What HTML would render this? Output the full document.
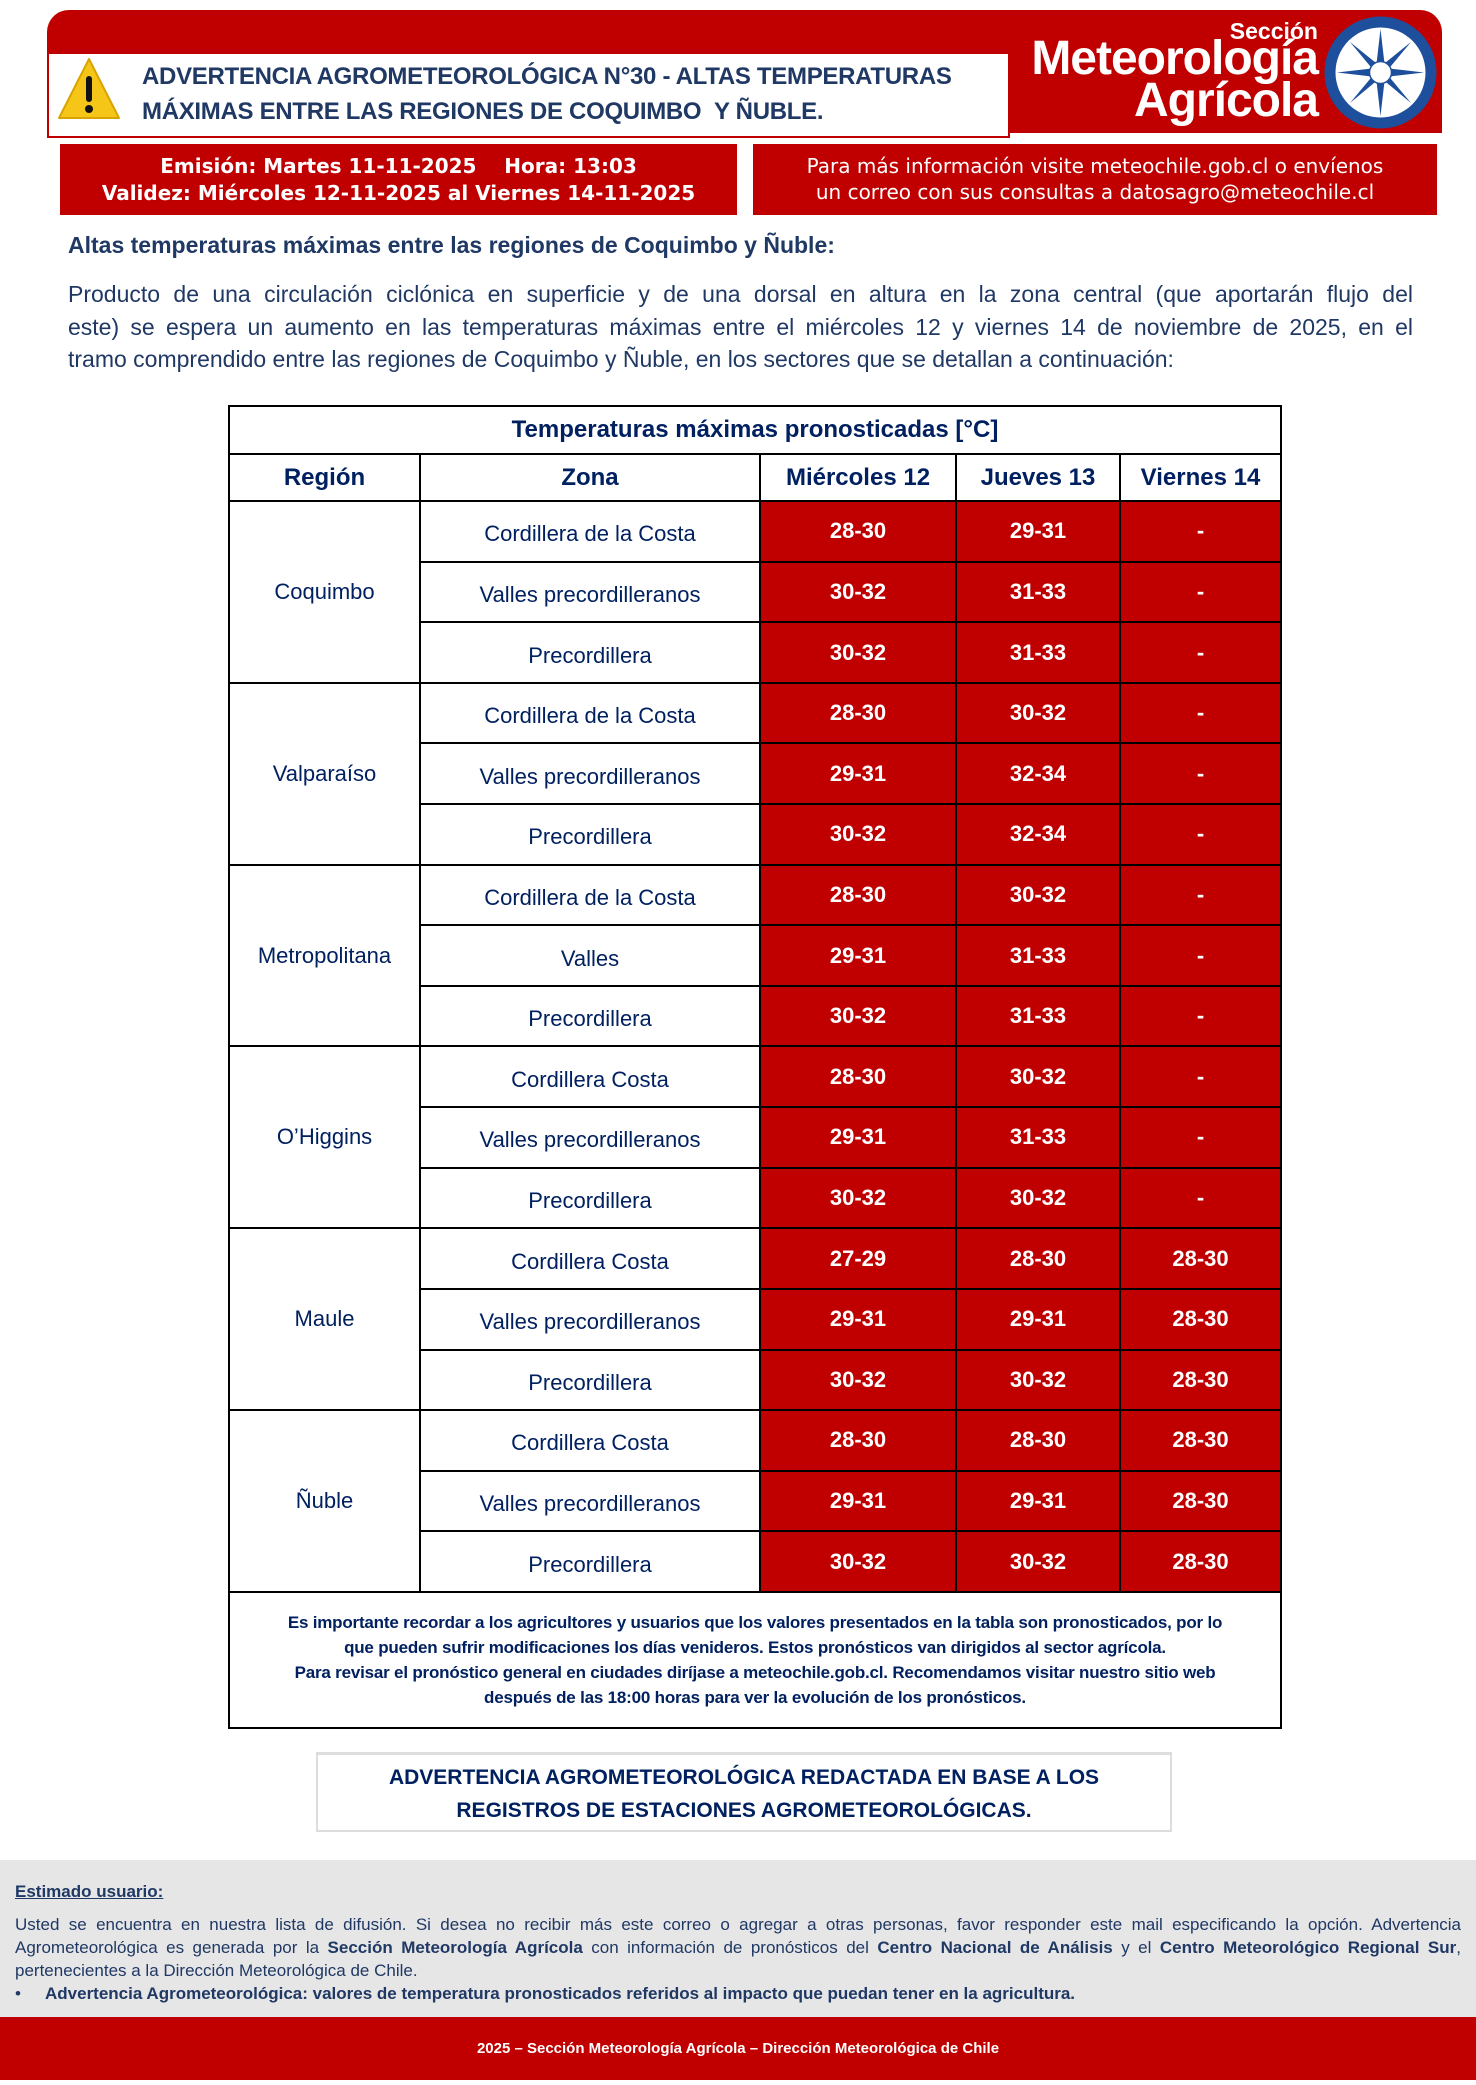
<!DOCTYPE html>
<html><head><meta charset="utf-8">
<style>
*{margin:0;padding:0;box-sizing:border-box}
body{width:1476px;height:2085px;background:#fff;position:relative;font-family:"Liberation Sans",sans-serif;overflow:hidden}
.abs{position:absolute}
.navy{color:#002060}
.j{text-align:justify;text-align-last:justify;white-space:nowrap}
#grid{position:absolute;left:228px;top:405px;width:1054px;height:1324px;background:#000;display:grid;
grid-template-columns:189px 338px 194px 162px 159px;
grid-template-rows:46px 45px repeat(18,1fr) 134px;gap:2px;padding:2px}
#grid>div{background:#fff;display:flex;align-items:center;justify-content:center;color:#002060;text-align:center}
#grid .h{font-weight:bold;font-size:24px}
#grid .z{font-size:22px;padding-top:6px}
#grid .r{font-size:22px}
#grid .v{background:#c00000;color:#fff;font-weight:bold;font-size:22px}
</style></head><body>

<div class="abs" style="left:47px;top:10px;width:1395px;height:123px;background:#c00000;border-radius:22px 22px 0 22px"></div>
<div class="abs" style="left:47px;top:52px;width:963px;height:86px;background:#fff;border:2px solid #c00000"></div>
<svg class="abs" style="left:56px;top:56px" width="66" height="66" viewBox="0 0 66 66">
<polygon points="33,3 63,62 3,62" fill="#f5c518" stroke="#d9a400" stroke-width="2" stroke-linejoin="round"/>
<rect x="30" y="20" width="6" height="26" rx="3" fill="#111"/><circle cx="33" cy="53" r="4" fill="#111"/></svg>
<div class="abs navy" style="left:142px;top:59px;font-size:24px;font-weight:bold;line-height:35px;color:#1f3864;white-space:nowrap;letter-spacing:-0.3px">ADVERTENCIA AGROMETEOROLÓGICA N°30 - ALTAS TEMPERATURAS<br>MÁXIMAS ENTRE LAS REGIONES DE COQUIMBO &nbsp;Y ÑUBLE.</div>

<div class="abs" style="right:158px;top:18px;color:#fff;font-weight:bold;font-size:23px;text-align:right">Sección</div>
<div class="abs" style="right:158px;top:38px;color:#fff;font-weight:bold;font-size:48px;line-height:42px;text-align:right;letter-spacing:-1px">Meteorología<br>Agrícola</div>
<svg class="abs" style="left:1323px;top:15px" width="115" height="115" viewBox="0 0 115 115">
<circle cx="57.5" cy="57.5" r="56" fill="#1d4f9c"/><circle cx="57.5" cy="57.5" r="45" fill="#fff"/>
<g fill="#1d4f9c">
<polygon points="57.5,14 62,53 57.5,57 53,53"/><polygon points="57.5,101 62,62 57.5,58 53,62"/>
<polygon points="14,57.5 53,53 57,57.5 53,62"/><polygon points="101,57.5 62,53 58,57.5 62,62"/>
<polygon points="27,27 58,52 57,57 52,57"/><polygon points="88,27 63,57 58,57 57,52"/>
<polygon points="27,88 57,63 58,58 52,58"/><polygon points="88,88 58,63 57,58 63,58"/>
</g><circle cx="57.5" cy="57.5" r="11" fill="#fff" stroke="#1d4f9c" stroke-width="1.5"/>
</svg>

<div class="abs" style="left:60px;top:144px;width:677px;height:71px;background:#c00000;color:#fff;font-family:'DejaVu Sans',sans-serif;font-weight:bold;font-size:20px;line-height:27px;text-align:center;padding-top:9px;white-space:nowrap">Emisión: Martes 11-11-2025 &nbsp;&nbsp;&nbsp;Hora: 13:03<br>Validez: Miércoles 12-11-2025 al Viernes 14-11-2025</div>
<div class="abs" style="left:753px;top:144px;width:684px;height:71px;background:#c00000;color:#fff;font-family:'DejaVu Sans',sans-serif;font-size:20px;line-height:26px;text-align:center;padding-top:9px;white-space:nowrap">Para más información visite meteochile.gob.cl o envíenos<br>un correo con sus consultas a datosagro@meteochile.cl</div>

<div class="abs navy" style="left:68px;top:232px;font-size:23px;font-weight:bold;color:#1f3864">Altas temperaturas máximas entre las regiones de Coquimbo y Ñuble:</div>
<div class="abs" style="left:68px;top:278px;width:1345px;font-size:23px;line-height:32.5px;color:#1f3864">
<div class="j">Producto de una circulación ciclónica en superficie y de una dorsal en altura en la zona central (que aportarán flujo del</div>
<div class="j">este) se espera un aumento en las temperaturas máximas entre el miércoles 12 y viernes 14 de noviembre de 2025, en el</div>
<div>tramo comprendido entre las regiones de Coquimbo y Ñuble, en los sectores que se detallan a continuación:</div>
</div>

<div id="grid">
<div class="h" style="grid-column:1/6">Temperaturas máximas pronosticadas [°C]</div>
<div class="h">Región</div><div class="h">Zona</div><div class="h">Miércoles 12</div><div class="h">Jueves 13</div><div class="h">Viernes 14</div>

<div class="r" style="grid-row:span 3">Coquimbo</div>
<div class="z">Cordillera de la Costa</div><div class="v">28-30</div><div class="v">29-31</div><div class="v">-</div>
<div class="z">Valles precordilleranos</div><div class="v">30-32</div><div class="v">31-33</div><div class="v">-</div>
<div class="z">Precordillera</div><div class="v">30-32</div><div class="v">31-33</div><div class="v">-</div>

<div class="r" style="grid-row:span 3">Valparaíso</div>
<div class="z">Cordillera de la Costa</div><div class="v">28-30</div><div class="v">30-32</div><div class="v">-</div>
<div class="z">Valles precordilleranos</div><div class="v">29-31</div><div class="v">32-34</div><div class="v">-</div>
<div class="z">Precordillera</div><div class="v">30-32</div><div class="v">32-34</div><div class="v">-</div>

<div class="r" style="grid-row:span 3">Metropolitana</div>
<div class="z">Cordillera de la Costa</div><div class="v">28-30</div><div class="v">30-32</div><div class="v">-</div>
<div class="z">Valles</div><div class="v">29-31</div><div class="v">31-33</div><div class="v">-</div>
<div class="z">Precordillera</div><div class="v">30-32</div><div class="v">31-33</div><div class="v">-</div>

<div class="r" style="grid-row:span 3">O’Higgins</div>
<div class="z">Cordillera Costa</div><div class="v">28-30</div><div class="v">30-32</div><div class="v">-</div>
<div class="z">Valles precordilleranos</div><div class="v">29-31</div><div class="v">31-33</div><div class="v">-</div>
<div class="z">Precordillera</div><div class="v">30-32</div><div class="v">30-32</div><div class="v">-</div>

<div class="r" style="grid-row:span 3">Maule</div>
<div class="z">Cordillera Costa</div><div class="v">27-29</div><div class="v">28-30</div><div class="v">28-30</div>
<div class="z">Valles precordilleranos</div><div class="v">29-31</div><div class="v">29-31</div><div class="v">28-30</div>
<div class="z">Precordillera</div><div class="v">30-32</div><div class="v">30-32</div><div class="v">28-30</div>

<div class="r" style="grid-row:span 3">Ñuble</div>
<div class="z">Cordillera Costa</div><div class="v">28-30</div><div class="v">28-30</div><div class="v">28-30</div>
<div class="z">Valles precordilleranos</div><div class="v">29-31</div><div class="v">29-31</div><div class="v">28-30</div>
<div class="z">Precordillera</div><div class="v">30-32</div><div class="v">30-32</div><div class="v">28-30</div>

<div style="grid-column:1/6;font-size:17px;font-weight:bold;line-height:25px;padding:0 10px;letter-spacing:-0.2px;white-space:nowrap">Es importante recordar a los agricultores y usuarios que los valores presentados en la tabla son pronosticados, por lo<br>que pueden sufrir modificaciones los días venideros. Estos pronósticos van dirigidos al sector agrícola.<br>Para revisar el pronóstico general en ciudades diríjase a meteochile.gob.cl. Recomendamos visitar nuestro sitio web<br>después de las 18:00 horas para ver la evolución de los pronósticos.</div>
</div>

<div class="abs" style="left:316px;top:1752px;width:856px;height:80px;border:2px solid #ddd;border-top-width:3px;color:#002060;font-weight:bold;font-size:21px;line-height:33px;text-align:center;padding-top:6px">ADVERTENCIA AGROMETEOROLÓGICA REDACTADA EN BASE A LOS<br>REGISTROS DE ESTACIONES AGROMETEOROLÓGICAS.</div>

<div class="abs" style="left:0;top:1860px;width:1476px;height:157px;background:#e6e6e6;color:#1f3864;font-size:17px;line-height:23px;padding:20px 15px 0 15px">
<div style="font-weight:bold;text-decoration:underline;margin-bottom:10px">Estimado usuario:</div>
<div style="text-align:justify">Usted se encuentra en nuestra lista de difusión. Si desea no recibir más este correo o agregar a otras personas, favor responder este mail especificando la opción. Advertencia Agrometeorológica es generada por la <b>Sección Meteorología Agrícola</b> con información de pronósticos del <b>Centro Nacional de Análisis</b> y el <b>Centro Meteorológico Regional Sur</b>, pertenecientes a la Dirección Meteorológica de Chile.</div>
<div><span style="display:inline-block;width:30px">•</span><b>Advertencia Agrometeorológica: valores de temperatura pronosticados referidos al impacto que puedan tener en la agricultura.</b></div>
</div>
<div class="abs" style="left:0;top:2017px;width:1476px;height:63px;background:#c00000;color:#fff;font-weight:bold;font-size:15px;line-height:63px;text-align:center">2025 – Sección Meteorología Agrícola – Dirección Meteorológica de Chile</div>
</body></html>
